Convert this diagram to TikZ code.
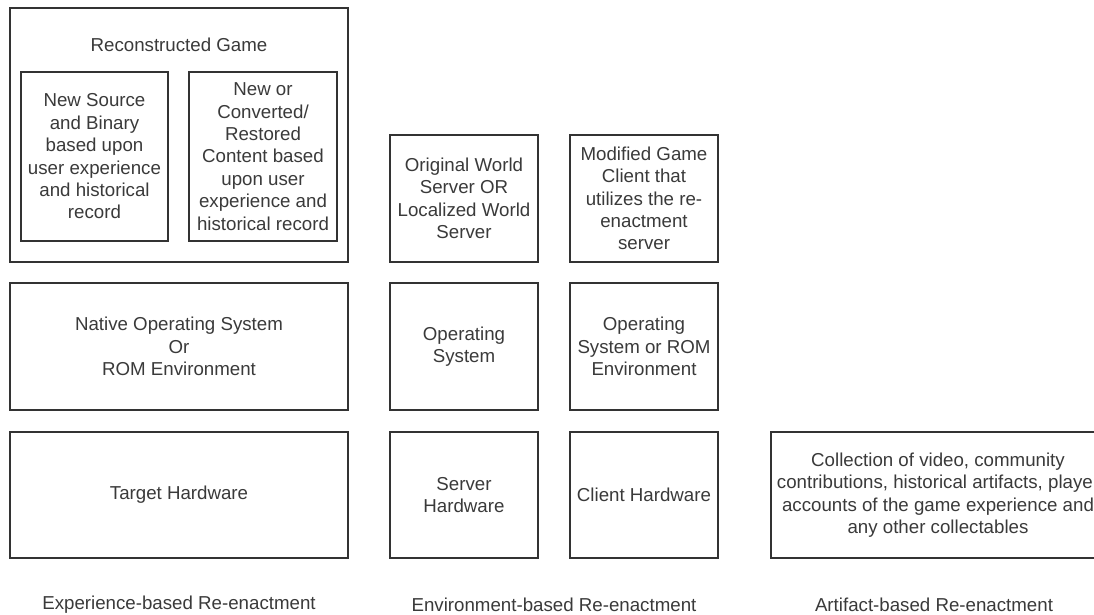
\documentclass[tikz,border=0pt]{standalone}
\usepackage{fontspec}
\setmainfont{Liberation Sans}
\definecolor{linec}{HTML}{333333}
\definecolor{textc}{HTML}{3A3A3A}
\tikzset{
  box/.style={draw=linec, line width=1.6pt, rectangle, inner sep=0pt, align=center, text=textc,
              font=\fontsize{18.7}{22.4}\selectfont},
  lbl/.style={inner sep=0pt, align=center, text=textc, font=\fontsize{18.7}{22.4}\selectfont}
}
\begin{document}
\begin{tikzpicture}[x=1pt,y=-1pt]
\clip (0,0) rectangle (1094,615);
\fill[white] (0,0) rectangle (1094,615);
% Experience column
\node[box, minimum width=338pt, minimum height=254pt] (rg) at (179,135) {};
\node[lbl] (rgt) at (179,45) {Reconstructed Game};
\node[box, minimum width=147pt, minimum height=169pt] (src) at (94.5,156.5)
  {New Source\\and Binary\\based upon\\user experience\\and historical\\record};
\node[box, minimum width=148pt, minimum height=169pt] (cnt) at (263,156.5)
  {New or\\Converted/\\Restored\\Content based\\upon user\\experience and\\historical record};
\node[box, minimum width=338pt, minimum height=127pt] (nos) at (179,346.5)
  {Native Operating System\\Or\\ROM Environment};
\node[box, minimum width=338pt, minimum height=126pt] (th) at (179,495)
  {Target Hardware};
% Environment column
\node[box, minimum width=148pt, minimum height=127pt] (ows) at (464,198.5)
  {Original World\\Server OR\\Localized World\\Server};
\node[box, minimum width=148pt, minimum height=127pt] (mgc) at (644,198.5)
  {Modified Game\\Client that\\utilizes the re-\\enactment\\server};
\node[box, minimum width=148pt, minimum height=127pt] (os) at (464,346.5)
  {Operating\\System};
\node[box, minimum width=148pt, minimum height=127pt] (osr) at (644,346.5)
  {Operating\\System or ROM\\Environment};
\node[box, minimum width=148pt, minimum height=126pt] (sh) at (464,495)
  {Server\\Hardware};
\node[box, minimum width=148pt, minimum height=126pt] (ch) at (644,495)
  {Client Hardware};
% Artifact column
\node[box, minimum width=334pt, minimum height=126pt] (art) at (938,495)
  {Collection of video, community\\contributions, historical artifacts, player\\accounts of the game experience and\\any other collectables};
% Column labels
\node[lbl] (l1) at (179,604.5) {Experience-based Re-enactment};
\node[lbl] (l2) at (554,604.5) {Environment-based Re-enactment};
\node[lbl] (l3) at (934,604.5) {Artifact-based Re-enactment};
\end{tikzpicture}
\end{document}
